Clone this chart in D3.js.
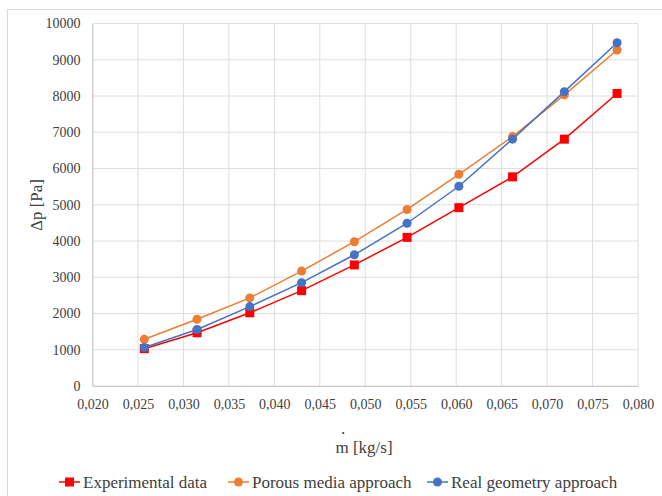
<!DOCTYPE html>
<html>
<head>
<meta charset="utf-8">
<script src="https://cdn.jsdelivr.net/npm/d3@7"></script>
<style>
  body { margin: 0; background: #fff; }
  svg text { font-family: "Liberation Serif", serif !important; }
</style>
</head>
<body>
<div id="chart"></div>
<script>
// mass flow rate [kg/s]
const massFlow = [0.0257, 0.0315, 0.0373, 0.0430, 0.0488, 0.0546, 0.0603, 0.0662, 0.0719, 0.0777];
// pressure drop [Pa]
const experimental = [1030, 1470, 2020, 2630, 3340, 4100, 4920, 5770, 6810, 8070];
const porousMedia = [1290, 1840, 2430, 3170, 3980, 4870, 5840, 6880, 8030, 9270];
const realGeometry = [1060, 1560, 2190, 2850, 3620, 4490, 5510, 6810, 8120, 9470];
const xTicks = [0.020, 0.025, 0.030, 0.035, 0.040, 0.045, 0.050, 0.055, 0.060, 0.065, 0.070, 0.075, 0.080];
const yTicks = [0, 1000, 2000, 3000, 4000, 5000, 6000, 7000, 8000, 9000, 10000];

const series = [
    { name: "Experimental data", values: experimental, color: "#ff0000", marker: "square" },
    { name: "Porous media approach", values: porousMedia, color: "#ed7d31", marker: "circle" },
    { name: "Real geometry approach", values: realGeometry, color: "#4472c4", marker: "circle" }
];

const FONT = "Liberation Serif";
const W = 662, H = 496;
const margin = { top: 23.5, right: 24, bottom: 110, left: 92.5 };
const width = W - margin.left - margin.right;
const height = H - margin.top - margin.bottom;

const svg = d3.select("#chart").append("svg")
    .attr("width", W)
    .attr("height", H)
    .attr("font-family", FONT);

// chart area border
svg.append("rect")
    .attr("x", 7.5).attr("y", 9.5)
    .attr("width", W).attr("height", H)
    .attr("fill", "none")
    .attr("stroke", "#d9d9d9");

const g = svg.append("g")
    .attr("transform", `translate(${margin.left},${margin.top})`);

const x = d3.scaleLinear().domain([0.02, 0.08]).range([0, width]);
const y = d3.scaleLinear().domain([0, 10000]).range([height, 0]);

// gridlines
g.append("g").selectAll("line").data(xTicks).join("line")
    .attr("x1", d => x(d)).attr("x2", d => x(d))
    .attr("y1", 0).attr("y2", height)
    .attr("stroke", "#dedede");
g.append("g").selectAll("line").data(yTicks).join("line")
    .attr("x1", 0).attr("x2", width)
    .attr("y1", d => y(d)).attr("y2", d => y(d))
    .attr("stroke", "#dedede");

const fmt = d => d3.format(".3f")(d).replace(".", ",");

// axes
const xAxis = g.append("g")
    .attr("transform", `translate(0,${height})`)
    .call(d3.axisBottom(x).tickValues(xTicks).tickFormat(fmt).tickSize(0).tickPadding(13))
    .attr("font-family", FONT)
    .attr("font-size", 14);
xAxis.select(".domain").attr("stroke", "#c8c8c8");
xAxis.selectAll("text").attr("fill", "#404040");

const yAxis = g.append("g")
    .call(d3.axisLeft(y).tickValues(yTicks).tickFormat(d3.format("d")).tickSize(0).tickPadding(12))
    .attr("font-family", FONT)
    .attr("font-size", 14);
yAxis.select(".domain").attr("stroke", "#c8c8c8");
yAxis.selectAll("text").attr("fill", "#404040");

// lines and markers
const line = d3.line()
    .x((d, i) => x(massFlow[i]))
    .y(d => y(d));

series.forEach(s => {
    g.append("path")
        .datum(s.values)
        .attr("fill", "none")
        .attr("stroke", s.color)
        .attr("stroke-width", 1.5)
        .attr("d", line);
    if (s.marker === "square") {
        g.append("g").selectAll("rect").data(s.values).join("rect")
            .attr("x", (d, i) => x(massFlow[i]) - 4.5)
            .attr("y", d => y(d) - 4.5)
            .attr("width", 9).attr("height", 9)
            .attr("fill", s.color);
    } else {
        g.append("g").selectAll("circle").data(s.values).join("circle")
            .attr("cx", (d, i) => x(massFlow[i]))
            .attr("cy", d => y(d))
            .attr("r", 4.5)
            .attr("fill", s.color);
    }
});

// axis titles
svg.append("text")
    .attr("x", 364).attr("y", 453)
    .attr("text-anchor", "middle")
    .attr("fill", "#404040")
    .attr("font-size", 17)
    .text("m [kg/s]");
svg.append("text")
    .attr("x", 343).attr("y", 434)
    .attr("text-anchor", "middle")
    .attr("fill", "#404040")
    .attr("font-size", 17)
    .text(".");
svg.append("text")
    .attr("transform", "translate(42,205) rotate(-90)")
    .attr("text-anchor", "middle")
    .attr("fill", "#404040")
    .attr("font-size", 17)
    .text("Δp [Pa]");

// legend
const legendX = [59, 228, 427];
const legend = svg.append("g").selectAll("g").data(series).join("g")
    .attr("transform", (d, i) => `translate(${legendX[i]},482)`);
legend.append("line")
    .attr("x1", 0).attr("x2", 21)
    .attr("stroke", d => d.color)
    .attr("stroke-width", 1.5);
legend.filter(d => d.marker === "square").append("rect")
    .attr("x", 6).attr("y", -4.5).attr("width", 9).attr("height", 9)
    .attr("fill", d => d.color);
legend.filter(d => d.marker === "circle").append("circle")
    .attr("cx", 10.5).attr("r", 4.5)
    .attr("fill", d => d.color);
legend.append("text")
    .attr("x", 24).attr("y", 5.5)
    .attr("fill", "#404040")
    .attr("font-size", 17)
    .text(d => d.name);
</script>
</body>
</html>
